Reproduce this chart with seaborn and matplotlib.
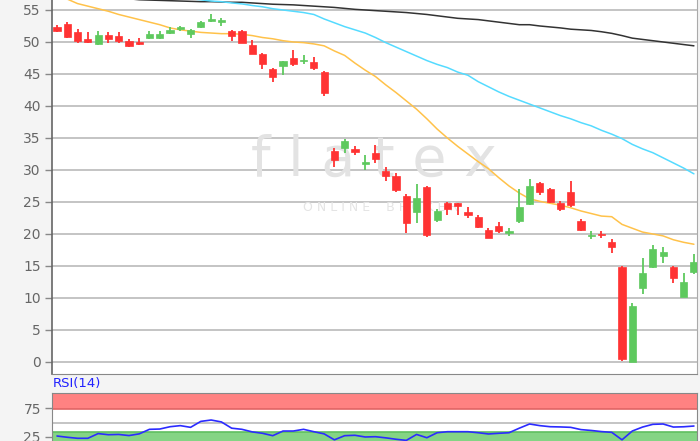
import numpy as np
import matplotlib.pyplot as plt
import seaborn as sns

# candle data
opens = [52.4, 52.8, 51.5, 50.4, 49.7, 51.1, 50.9, 50.2, 50.0, 50.6,
         50.6, 51.4, 52.0, 51.2, 52.3, 53.3, 53.1, 51.7, 51.7, 49.5,
         48.2, 45.8, 46.2, 47.5, 47.1, 46.8, 45.3, 33.0, 33.4, 33.3,
         31.0, 32.7, 29.8, 29.0, 25.9, 23.5, 27.4, 22.2, 24.8, 24.8,
         23.5, 22.7, 20.7, 21.3, 20.1, 22.0, 24.7, 28.0, 27.0, 24.8,
         26.5, 22.0, 19.7, 20.0, 18.7, 14.9, 0.05, 11.5, 14.8, 16.6,
         14.9, 10.2, 14.1]
highs = [52.6, 53.1, 52.0, 51.5, 51.7, 51.6, 51.5, 50.4, 50.7, 51.7,
         51.7, 52.3, 52.5, 52.0, 53.3, 54.3, 53.7, 51.8, 51.8, 50.3,
         48.3, 46.0, 47.1, 48.8, 47.9, 47.6, 45.4, 33.4, 34.8, 33.7,
         32.3, 33.9, 30.4, 29.6, 26.2, 27.8, 27.5, 23.9, 25.05, 24.9,
         24.2, 23.0, 20.9, 21.9, 20.9, 27.0, 28.6, 28.1, 27.2, 25.2,
         28.3, 22.3, 20.5, 20.4, 19.2, 15.0, 9.2, 16.3, 18.3, 18.0,
         15.0, 13.9, 16.9]
lows = [51.5, 50.6, 49.8, 49.9, 49.6, 49.9, 49.8, 49.2, 49.6, 50.4,
        50.4, 51.2, 51.7, 50.7, 52.2, 53.2, 52.5, 50.2, 49.8, 48.1,
        45.8, 43.7, 44.8, 46.3, 46.5, 45.6, 41.6, 30.5, 32.6, 32.3,
        30.0, 31.1, 28.3, 26.6, 20.1, 21.7, 19.5, 21.8, 23.0, 22.9,
        22.5, 21.0, 19.3, 20.1, 19.7, 21.7, 24.6, 26.1, 24.8, 23.6,
        24.2, 20.4, 19.2, 19.3, 17.1, 0.15, 0.0, 10.6, 14.7, 15.5,
        12.3, 10.2, 13.75]
closes = [51.7, 50.8, 50.2, 50.0, 51.1, 50.5, 50.2, 49.4, 49.7, 51.2,
          51.2, 51.9, 52.3, 51.8, 53.2, 53.6, 53.4, 50.9, 49.9, 48.2,
          46.5, 44.5, 47.0, 46.5, 47.2, 46.0, 42.1, 31.5, 34.5, 32.8,
          31.2, 31.7, 29.0, 26.9, 21.7, 25.6, 19.8, 23.6, 23.9, 24.4,
          22.9, 21.1, 19.4, 20.4, 20.5, 24.2, 27.5, 26.5, 25.0, 23.9,
          24.5, 20.6, 19.9, 19.8, 17.9, 0.4, 8.75, 13.9, 17.7, 17.2,
          13.2, 12.55, 15.7]

# moving averages
ma_orange = [57.3, 56.7, 56.0, 55.6, 55.2, 54.8, 54.3, 53.9, 53.5, 53.1,
             52.7, 52.2, 51.9, 51.7, 51.5, 51.4, 51.3, 51.3, 51.2, 51.0,
             50.7, 50.5, 50.2, 50.0, 49.9, 49.7, 49.4, 48.6, 47.9, 46.7,
             45.6, 44.6, 43.3, 42.1, 40.8, 39.5, 38.0, 36.4, 35.0, 33.7,
             32.5, 31.3, 30.2, 28.8, 27.5, 26.4, 25.5, 25.1, 24.8, 24.5,
             24.1, 23.6, 23.2, 22.8, 22.7, 21.5, 20.9, 20.3, 20.0, 19.7,
             19.1, 18.7, 18.4]
ma_cyan = [58.4, 58.3, 58.2, 58.1, 57.95, 57.8, 57.65, 57.5, 57.4, 57.25,
           57.1, 57.0, 56.9, 56.75, 56.6, 56.4, 56.3, 56.1, 55.95, 55.7,
           55.5, 55.2, 55.0, 54.8, 54.6, 54.3, 53.6, 53.0, 52.4, 51.9,
           51.4, 50.7, 49.9, 49.2, 48.5, 47.8, 47.1, 46.5, 46.0, 45.3,
           44.8, 43.8, 43.0, 42.2, 41.5, 40.9, 40.3, 39.7, 39.1, 38.5,
           38.0, 37.4, 36.9, 36.2, 35.6, 34.9, 34.0, 33.3, 32.7, 31.9,
           31.1, 30.3, 29.4]
ma_black = [57.5, 57.4, 57.3, 57.2, 57.1, 57.0, 56.9, 56.75, 56.6, 56.55,
            56.5, 56.45, 56.4, 56.35, 56.3, 56.3, 56.25, 56.2, 56.2, 56.1,
            56.0, 55.9, 55.85, 55.8, 55.7, 55.6, 55.5, 55.4, 55.25, 55.1,
            55.0, 54.9, 54.8, 54.7, 54.6, 54.45, 54.3, 54.1, 53.9, 53.7,
            53.6, 53.5, 53.3, 53.1, 52.9, 52.7, 52.7, 52.5, 52.35, 52.2,
            52.0, 51.9, 51.8, 51.6, 51.35, 51.0, 50.6, 50.4, 50.2, 50.0,
            49.8, 49.6, 49.4]

rsi = [26.2, 24.0, 22.2, 22.2, 30.5, 28.5, 29.0, 27.0, 30.0, 38.0,
       38.5, 42.6, 44.5, 41.5, 52.0, 54.4, 51.0, 40.0, 38.0, 33.5,
       31.0, 26.8, 35.0, 35.0, 38.0, 33.8, 30.0, 19.5, 26.8, 27.5,
       24.5, 25.0, 23.0, 20.5, 18.5, 29.0, 23.2, 32.0, 33.8, 33.8,
       33.8, 32.0, 29.8, 31.0, 32.0, 40.0, 47.4, 44.5, 42.6, 42.2,
       41.5, 37.5, 36.0, 34.0, 32.7, 19.5, 35.0, 42.0, 46.8, 47.4,
       42.0, 42.5, 43.8]

price_ticks = [0, 5, 10, 15, 20, 25, 30, 35, 40, 45, 50, 55]
rsi_ticks = [25, 75]

sns.set_style("white")
plt.rcParams['font.family'] = ['DejaVu Sans']

idx = np.arange(len(opens))
o = np.array(opens)
c = np.array(closes)
up = c >= o
colors = np.where(up, '#5ec95e', '#ff3333')
bottoms = np.minimum(o, c)
heights = np.maximum(np.abs(c - o), 0.15)

W, H = 700, 441
fig = plt.figure(figsize=(7, 4.41), dpi=100, facecolor='#f4f4f4')

# main price panel
ax = fig.add_axes([52 / W, 1 - 374 / H, 645 / W, 374 / H])
ax.set_facecolor('white')
ax.set_xlim(-0.49, 62.3)
ax.set_ylim(-1.875, 56.56)
ax.set_yticks(price_ticks)
ax.set_xticks([])
for t in price_ticks:
    ax.axhline(t, color='#b4b4b4', lw=1.1, zorder=0.5)

# watermark
ax.text(0.499, 0.57, 'f l a t e x', transform=ax.transAxes, ha='center', va='center',
        fontsize=40, color='#e3e3e3', zorder=0.6)
ax.text(0.51, 0.445, 'O N L I N E    B R O K E R', transform=ax.transAxes,
        ha='center', va='center', fontsize=9, color='#e4e4e4', zorder=0.6)

sns.lineplot(x=idx, y=ma_black, ax=ax, color='#333333', lw=1.1, zorder=1)
sns.lineplot(x=idx, y=ma_cyan, ax=ax, color='#55dbff', lw=1.1, zorder=1)
sns.lineplot(x=idx, y=ma_orange, ax=ax, color='#ffc24a', lw=1.1, zorder=1)

ax.vlines(idx, lows, highs, colors=colors, lw=1.3, zorder=2)
ax.bar(idx, heights, bottom=bottoms, width=0.7, color=colors,
       edgecolor=colors, lw=0.5, zorder=3)

ax.tick_params(axis='y', colors='#888888', labelcolor='#666666', labelsize=10,
               length=5, width=1, pad=3, left=True)
ax.spines['left'].set_color('#666666')
ax.spines['left'].set_linewidth(1.2)
ax.spines['bottom'].set_color('#888888')
ax.spines['right'].set_color('#aaaaaa')
ax.spines['top'].set_visible(False)
ax.set_xlabel('')
ax.set_ylabel('')

# RSI panel
rax = fig.add_axes([52 / W, 1 - 450.9 / H, 645 / W, 58.2 / H])
rax.set_facecolor('white')
rax.set_xlim(-0.49, 62.3)
rax.set_ylim(0, 102.5)
rax.set_xticks([])
rax.set_yticks(rsi_ticks)
rax.axhspan(73, 102.5, facecolor='#ff8282', edgecolor='none', zorder=0.5)
rax.axhline(73, color='#e06464', lw=1.2, zorder=0.6)
rax.axhline(102, color='#e06464', lw=1.2, zorder=0.6)
rax.axhspan(0, 34, facecolor='#84d484', edgecolor='none', zorder=0.5)
rax.axhline(34, color='#5fbf5f', lw=1.2, zorder=0.6)
rax.axhline(50, color='#b4b4b4', lw=1.1, zorder=0.5)
sns.lineplot(x=idx, y=rsi, ax=rax, color='#2b2bff', lw=1.2, zorder=2)
rax.tick_params(axis='y', colors='#888888', labelcolor='#666666', labelsize=10,
                length=5, width=1, pad=3, left=True)
for s in rax.spines.values():
    s.set_color('#888888')
rax.set_xlabel('')
rax.set_ylabel('')
fig.text(53 / W, 1 - 384 / H, 'RSI(14)', color='#2222ff', fontsize=9.5,
         ha='left', va='center')

plt.savefig('out.png', dpi=100, facecolor=fig.get_facecolor())
